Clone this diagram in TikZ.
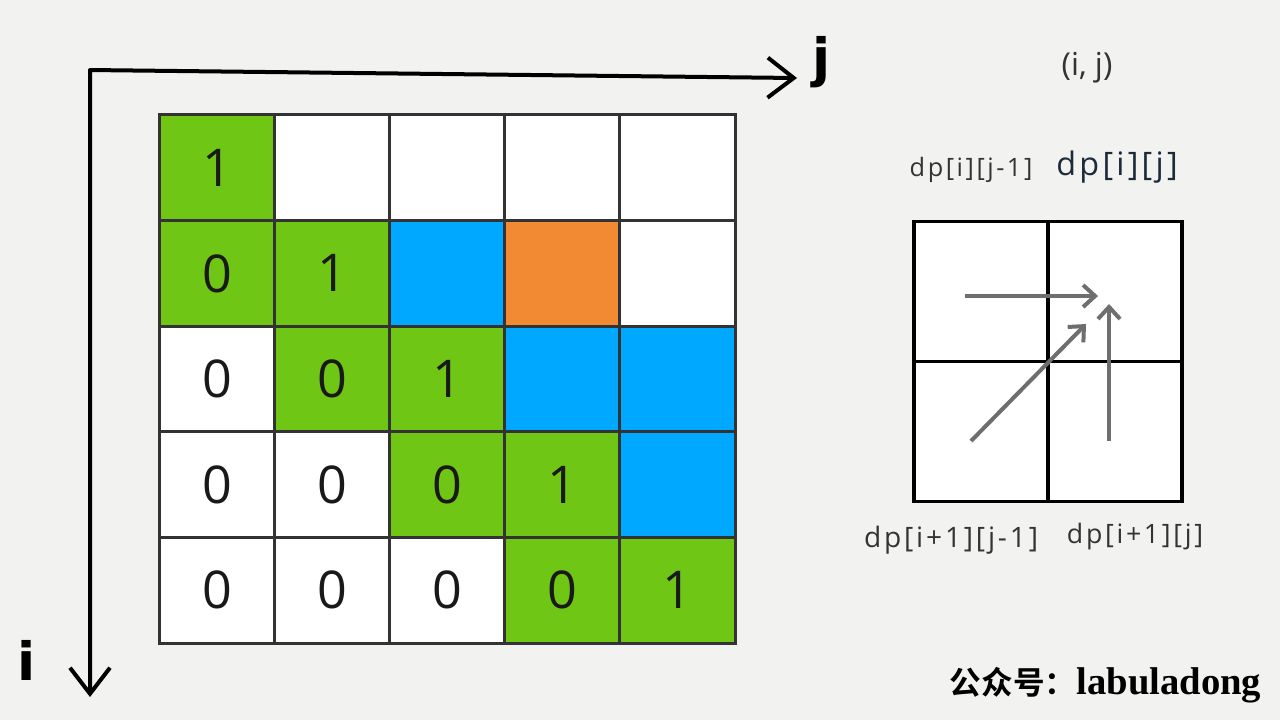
\documentclass[tikz,border=0pt]{standalone}
\usepackage{fontspec}
\usepackage{tikz}
\usetikzlibrary{positioning, arrows.meta, calc}
\newfontfamily\numfont{Open Sans}
\newfontfamily\widefont[LetterSpace=10]{Open Sans}
\newfontfamily\cjkbold{Noto Sans CJK SC Bold}
\newfontfamily\serifbold{Liberation Serif}
\newfontfamily\handfont{DejaVu Sans}
\definecolor{paper}{HTML}{F2F2F0}
\definecolor{cellGreen}{HTML}{70C614}
\definecolor{cellBlue}{HTML}{00A8FF}
\definecolor{cellOrange}{HTML}{F28A33}
\definecolor{gridGray}{HTML}{333333}
\definecolor{arrowGray}{HTML}{6E6E6E}
\definecolor{labelNavy}{HTML}{1C2B3A}

\begin{document}
\begin{tikzpicture}[
  x=0.01cm, y=-0.01cm,
  cell/.style={draw=gridGray, line width=0.3mm, minimum width=1.15cm,
               minimum height=1.056cm, inner sep=0pt,
               font=\numfont\fontsize{14.8}{16}\selectfont, text=black!90},
  quad/.style={draw=black, line width=0.35mm, minimum width=1.34cm,
               minimum height=1.40cm, inner sep=0pt, fill=white},
  axis/.style={line width=0.4mm, line join=round,
               arrows={Straight Barb[length=2.6mm, width=4mm, line width=0.4mm]-Straight Barb[length=2.6mm, width=4mm, line width=0.4mm]}},
  garr/.style={arrowGray, line width=0.4mm,
               -{Straight Barb[length=1.2mm, width=2.2mm, line width=0.4mm]}},
  lbl/.style={font=\widefont\fontsize{7.2}{8}\selectfont, text=black!80},
  hand/.style={font=\handfont\bfseries\fontsize{15}{16}\selectfont}
]
\fill[paper] (0,0) rectangle (1280,720);
\useasboundingbox (0,0) rectangle (1280,720);

\coordinate (origin) at (90,70);
\coordinate (jend) at (797,78);
\coordinate (iend) at (90,697);
\draw[axis] (jend) -- (origin) -- (iend);
\node[hand] (jlabel) at (822,62) {j};
\node[hand] (ilabel) at (27,660) {i};

\foreach \r/\c/\f/\v in {
  0/0/cellGreen/1, 0/1/white/, 0/2/white/, 0/3/white/, 0/4/white/,
  1/0/cellGreen/0, 1/1/cellGreen/1, 1/2/cellBlue/, 1/3/cellOrange/, 1/4/white/,
  2/0/white/0, 2/1/cellGreen/0, 2/2/cellGreen/1, 2/3/cellBlue/, 2/4/cellBlue/,
  3/0/white/0, 3/1/white/0, 3/2/cellGreen/0, 3/3/cellGreen/1, 3/4/cellBlue/,
  4/0/white/0, 4/1/white/0, 4/2/white/0, 4/3/cellGreen/0, 4/4/cellGreen/1}
  \node[cell, fill=\f] (c-\r-\c) at ({217.5+115*\c}, {167.8+105.6*\r}) {\v};

\node[quad] (q-0-0) at (981,291.5) {};
\node[quad] (q-0-1) at (1115,291.5) {};
\node[quad] (q-1-0) at (981,431.5) {};
\node[quad] (q-1-1) at (1115,431.5) {};

\coordinate (endleft) at (1098,296);
\coordinate (enddiag) at (1086,324);
\coordinate (endup) at (1109,304);
\draw[garr] ([shift={(-16,4.5)}]q-0-0.center) -- (endleft);
\draw[garr] ([shift={(-10,9.5)}]q-1-0.center) -- (enddiag);
\draw[garr] ([shift={(-6,9.5)}]q-1-1.center) -- (endup);

\node[lbl, font=\numfont\fontsize{9}{10}\selectfont] (pos) at (1087,68) {(i, j)};
\node[lbl] (left) at (971,170) {dp[i][j-1]};
\node[lbl, font=\widefont\fontsize{9.2}{10}\selectfont, text=labelNavy] (cur) at (1117,167) {dp[i][j]};
\node[lbl, font=\widefont\fontsize{8}{9}\selectfont] (diag) at (951,540) {dp[i+1][j-1]};
\node[lbl, font=\widefont\fontsize{7.6}{9}\selectfont] (down) at (1135,537) {dp[i+1][j]};

\node[anchor=east, inner sep=0pt] (sign) at (1262,685)
  {{\cjkbold\fontsize{9}{11}\selectfont 公众号：}{\serifbold\bfseries\fontsize{11}{12}\selectfont labuladong}};
\end{tikzpicture}
\end{document}
